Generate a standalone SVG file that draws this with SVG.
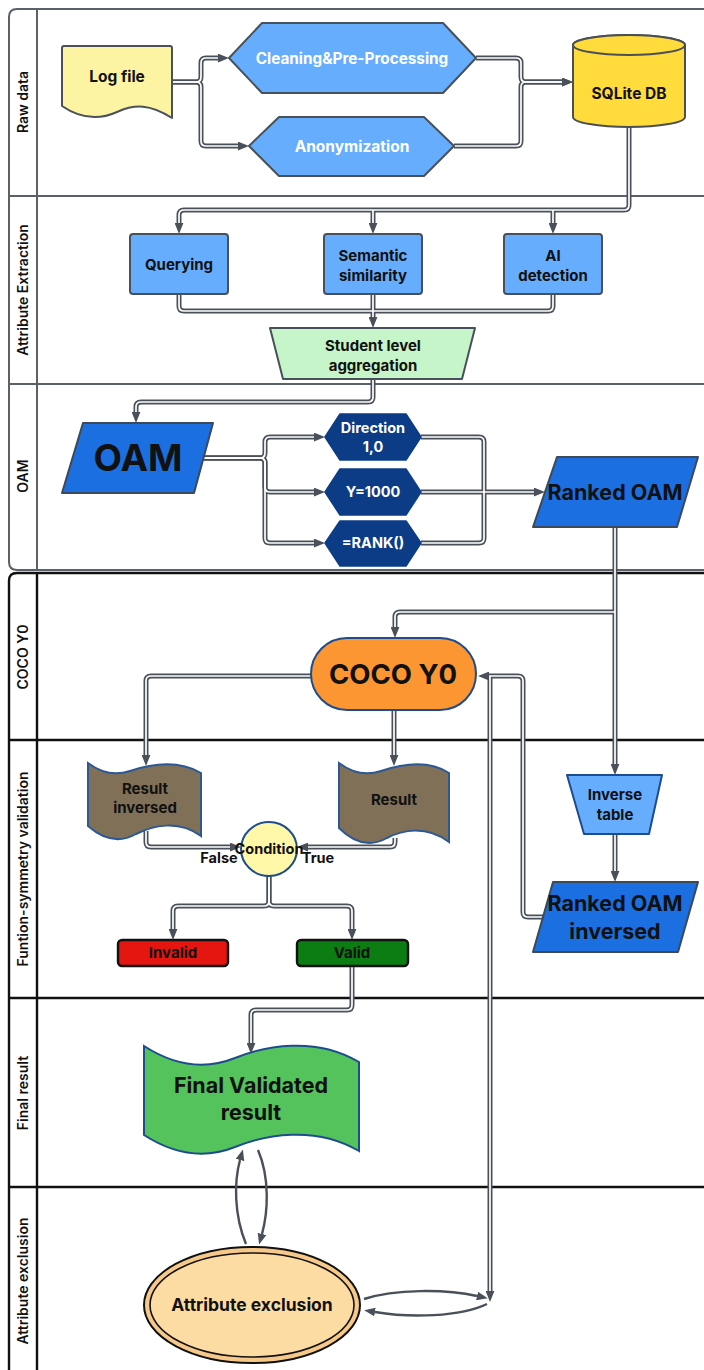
<svg xmlns="http://www.w3.org/2000/svg" xmlns:xlink="http://www.w3.org/1999/xlink" width="704" height="1370" viewBox="0 0 704 1370">
  <style>
    text { font-family: Inter, "Liberation Sans", Arial, sans-serif; font-weight: 700; text-anchor: middle; }
    .lane-t { font-size: 14px; font-weight: 600; fill: #111; }
    .pool-a { fill: none; stroke: #5a6169; stroke-width: 2; }
    .pool-b { fill: none; stroke: #111; stroke-width: 2.4; }
    .o { fill: none; stroke: #4a5059; stroke-width: 5; stroke-linejoin: round; }
    .i { fill: none; stroke: #fff; stroke-width: 1.7; stroke-linejoin: round; }
    .a { marker-end: url(#ah); }
    .s { fill: none; stroke: #4a5059; stroke-width: 2.4; marker-end: url(#ah2); }
    .lblue { fill: #67adfd; stroke: #48515b; stroke-width: 2; stroke-linejoin: round; }
    .navy { fill: #0c3c86; stroke: #0c3c86; stroke-width: 1.5; stroke-linejoin: round; }
    .para { fill: #1b6fe0; stroke: #3d4957; stroke-width: 2; stroke-linejoin: round; }
    .doc { fill: #807058; stroke: #2c5896; stroke-width: 2; }
    .w { fill: #fff; }
    .k { fill: #111; }
  </style>
  <defs>
    <marker id="ah" viewBox="0 0 10 8" refX="0" refY="4" markerWidth="11" markerHeight="9" markerUnits="userSpaceOnUse" orient="auto">
      <path d="M0,0 L10,4 L0,8 Z" fill="#4a5059"/>
    </marker>
    <marker id="ah2" viewBox="0 0 10 8" refX="0" refY="4" markerWidth="11" markerHeight="9" markerUnits="userSpaceOnUse" orient="auto">
      <path d="M0,0 L10,4 L0,8 Z" fill="#4a5059"/>
    </marker>
    <!-- double-line connector routes -->
    <path id="r1" d="M172,82 H196 Q201,82 201,77 V63 Q201,58 206,58 H218"/>
    <path id="r2" d="M172,82 H196 Q201,82 201,87 V141 Q201,146 206,146 H238"/>
    <path id="r3" d="M476,58 H516 Q521,58 521,63 V77 Q521,82 526,82 H562"/>
    <path id="r4" d="M454,146 H516 Q521,146 521,141 V87 Q521,82 526,82 H562"/>
    <path id="r5" d="M629,126 V205 Q629,210 624,210 H184 Q179,210 179,215 V223"/>
    <path id="r6" d="M373,210 V223"/>
    <path id="r7" d="M553,210 V223"/>
    <path id="a1" d="M179,294 V306 Q179,311 184,311 H548 Q553,311 553,306 V294"/>
    <path id="a2" d="M373,294 V317"/>
    <path id="o1" d="M373,379 V397 Q373,402 368,402 H141 Q136,402 136,407 V412"/>
    <path id="o2" d="M204,458 H260 Q265,458 265,453 V442 Q265,437 270,437 H314"/>
    <path id="o3" d="M204,458 H260 Q265,458 265,463 V487 Q265,492 270,492 H314"/>
    <path id="o4" d="M204,458 H260 Q265,458 265,463 V538 Q265,543 270,543 H314"/>
    <path id="o5" d="M421,437 H479 Q484,437 484,442 V538 Q484,543 479,543 H421"/>
    <path id="o6" d="M421,492 H534"/>
    <path id="c1" d="M615,527 V764"/>
    <path id="c2" d="M615,612 H400 Q395,612 395,617 V627"/>
    <path id="c3" d="M311,676 H151 Q146,676 146,681 V755"/>
    <path id="c4" d="M394,710 V755"/>
    <path id="c5" d="M545,917 H528 Q523,917 523,912 V681 Q523,676 518,676 H489"/>
    <path id="c6" d="M490,676 V1291"/>
    <path id="v1" d="M146,831 V842 Q146,847 151,847 H230"/>
    <path id="v2" d="M395,838 V842 Q395,847 390,847 H308"/>
    <path id="v3" d="M269,876 V901 Q269,906 264,906 H178 Q173,906 173,911 V929"/>
    <path id="v4" d="M269,876 V901 Q269,906 274,906 H347 Q352,906 352,911 V929"/>
    <path id="v5" d="M615,834 V871"/>
    <path id="f1" d="M352,966 V1005 Q352,1010 347,1010 H256 Q251,1010 251,1015 V1043"/>
  </defs>

  <!-- upper pool: Raw data / Attribute Extraction / OAM -->
  <g id="pool-upper">
    <path class="pool-a" d="M712,9 H17 Q9,9 9,17 V562 Q9,570 17,570 H712"/>
    <path class="pool-a" d="M37,9 V570 M9,196 H712 M9,384 H712"/>
    <text class="lane-t" transform="rotate(-90 28 102)" x="28" y="102">Raw data</text>
    <text class="lane-t" transform="rotate(-90 28 290)" x="28" y="290">Attribute Extraction</text>
    <text class="lane-t" transform="rotate(-90 28 476)" x="28" y="476">OAM</text>
  </g>

  <!-- lower pool: COCO Y0 / validation / final result / exclusion -->
  <g id="pool-lower">
    <path class="pool-b" d="M712,573 H17 Q9,573 9,581 V1372"/>
    <path class="pool-b" d="M37,573 V1372 M9,740 H712 M9,998 H712 M9,1187 H712"/>
    <text class="lane-t" transform="rotate(-90 28 657)" x="28" y="657">COCO Y0</text>
    <text class="lane-t" transform="rotate(-90 28 869)" x="28" y="869">Funtion-symmetry validation</text>
    <text class="lane-t" transform="rotate(-90 28 1093)" x="28" y="1093">Final result</text>
    <text class="lane-t" transform="rotate(-90 28 1281)" x="28" y="1281">Attribute exclusion</text>
  </g>

  <!-- connectors -->
  <g id="connectors">
    <g id="conn-outer">
      <use xlink:href="#r1" class="o a"/><use xlink:href="#r2" class="o a"/>
      <use xlink:href="#r3" class="o a"/><use xlink:href="#r4" class="o a"/>
      <use xlink:href="#r5" class="o a"/><use xlink:href="#r6" class="o a"/>
      <use xlink:href="#r7" class="o a"/>
      <use xlink:href="#a1" class="o"/><use xlink:href="#a2" class="o a"/>
      <use xlink:href="#o1" class="o a"/><use xlink:href="#o2" class="o a"/>
      <use xlink:href="#o3" class="o a"/><use xlink:href="#o4" class="o a"/>
      <use xlink:href="#o5" class="o"/><use xlink:href="#o6" class="o a"/>
      <use xlink:href="#c1" class="o a"/><use xlink:href="#c2" class="o a"/>
      <use xlink:href="#c3" class="o a"/><use xlink:href="#c4" class="o a"/>
      <use xlink:href="#c5" class="o a"/><use xlink:href="#c6" class="o a"/>
      <use xlink:href="#v1" class="o a"/><use xlink:href="#v2" class="o a"/>
      <use xlink:href="#v3" class="o a"/><use xlink:href="#v4" class="o a"/>
      <use xlink:href="#v5" class="o a"/><use xlink:href="#f1" class="o a"/>
    </g>
    <g id="conn-inner">
      <use xlink:href="#r1" class="i"/><use xlink:href="#r2" class="i"/>
      <use xlink:href="#r3" class="i"/><use xlink:href="#r4" class="i"/>
      <use xlink:href="#r5" class="i"/><use xlink:href="#r6" class="i"/>
      <use xlink:href="#r7" class="i"/>
      <use xlink:href="#a1" class="i"/><use xlink:href="#a2" class="i"/>
      <use xlink:href="#o1" class="i"/><use xlink:href="#o2" class="i"/>
      <use xlink:href="#o3" class="i"/><use xlink:href="#o4" class="i"/>
      <use xlink:href="#o5" class="i"/><use xlink:href="#o6" class="i"/>
      <use xlink:href="#c1" class="i"/><use xlink:href="#c2" class="i"/>
      <use xlink:href="#c3" class="i"/><use xlink:href="#c4" class="i"/>
      <use xlink:href="#c5" class="i"/><use xlink:href="#c6" class="i"/>
      <use xlink:href="#v1" class="i"/><use xlink:href="#v2" class="i"/>
      <use xlink:href="#v3" class="i"/><use xlink:href="#v4" class="i"/>
      <use xlink:href="#v5" class="i"/><use xlink:href="#f1" class="i"/>
    </g>
    <!-- single curved loops -->
    <path class="s" d="M246,1244 C234,1215 234,1182 240,1160"/>
    <path class="s" d="M258,1150 C270,1178 268,1212 262,1234"/>
    <path class="s" d="M364,1299 C395,1289 445,1289 477,1296"/>
    <path class="s" d="M487,1304 C460,1317 410,1318 375,1312"/>
  </g>

  <g id="log-file">
    <path d="M64,46 H170 Q172,46 172,48 V118 C150,104 135,104 117,112 C97,121 78,117 62,106 V48 Q62,46 64,46 Z" fill="#fdf4a3" stroke="#4a515a" stroke-width="2" stroke-linejoin="round"/>
    <text class="k" x="117" y="82" font-size="15.5">Log file</text>
  </g>

  <g id="cleaning">
    <path class="lblue" d="M229,58 L262,23 H443 L476,58 L443,93 H262 Z"/>
    <text class="w" x="352" y="64" font-size="15.3">Cleaning&amp;Pre-Processing</text>
  </g>

  <g id="anonymization">
    <path class="lblue" d="M249,146 L279,117 H424 L454,146 L424,176 H279 Z"/>
    <text class="w" x="352" y="152" font-size="15.5">Anonymization</text>
  </g>

  <g id="sqlite-db">
    <path d="M573,45 V117 A56,10 0 0 0 685,117 V45 A56,10 0 0 0 573,45 Z" fill="#ffdc3c" stroke="#4a4f55" stroke-width="2"/>
    <ellipse cx="629" cy="45" rx="56" ry="10" fill="#ffdc3c" stroke="#4a4f55" stroke-width="2"/>
    <text class="k" x="629" y="99" font-size="15.5">SQLite DB</text>
  </g>

  <g id="querying">
    <rect class="lblue" x="130" y="234" width="98" height="60" rx="3"/>
    <text class="k" x="179" y="270" font-size="15">Querying</text>
  </g>

  <g id="semantic-similarity">
    <rect class="lblue" x="324" y="234" width="98" height="60" rx="3"/>
    <text class="k" x="373" y="261" font-size="15">Semantic</text>
    <text class="k" x="373" y="281" font-size="15">similarity</text>
  </g>

  <g id="ai-detection">
    <rect class="lblue" x="504" y="234" width="98" height="60" rx="3"/>
    <text class="k" x="553" y="261" font-size="15">AI</text>
    <text class="k" x="553" y="281" font-size="15">detection</text>
  </g>

  <g id="student-aggregation">
    <path d="M270,328 H475 L462,379 H283 Z" fill="#c5f5c8" stroke="#48515b" stroke-width="2" stroke-linejoin="round"/>
    <text class="k" x="373" y="351" font-size="15">Student level</text>
    <text class="k" x="373" y="371" font-size="15">aggregation</text>
  </g>

  <g id="oam">
    <path class="para" d="M83,423 H213 L194,493 H62 Z"/>
    <text class="k" x="138" y="471" font-size="37">OAM</text>
  </g>

  <g id="direction">
    <path class="navy" d="M325,437 L340,414 H406 L421,437 L406,460 H340 Z"/>
    <text class="w" x="373" y="433" font-size="14.5">Direction</text>
    <text class="w" x="373" y="452" font-size="14.5">1,0</text>
  </g>

  <g id="y1000">
    <path class="navy" d="M325,492 L340,469 H406 L421,492 L406,515 H340 Z"/>
    <text class="w" x="373" y="497" font-size="14.5">Y=1000</text>
  </g>

  <g id="rank">
    <path class="navy" d="M325,543 L340,521 H406 L421,543 L406,566 H340 Z"/>
    <text class="w" x="373" y="548" font-size="14.5">=RANK()</text>
  </g>

  <g id="ranked-oam">
    <path class="para" d="M557,457 H698 L677,527 H533 Z"/>
    <text class="k" x="615" y="500" font-size="21.5">Ranked OAM</text>
  </g>

  <g id="coco-y0">
    <rect x="311" y="638" width="165" height="72" rx="36" fill="#fb9632" stroke="#1d4c8f" stroke-width="2"/>
    <text class="k" x="393" y="684" font-size="27.5">COCO Y0</text>
  </g>

  <g id="result-inversed">
    <path class="doc" d="M88,763 C100,772 115,776 130,771 S175,758 201,773 V836 C178,819 152,826 136,834 C120,843 104,840 88,826 Z"/>
    <text class="k" x="145" y="794" font-size="15">Result</text>
    <text class="k" x="145" y="813" font-size="15">inversed</text>
  </g>

  <g id="result">
    <path class="doc" d="M339,763 C351,772 366,776 381,771 S426,758 449,773 V842 C426,825 402,830 387,838 C371,847 355,844 339,828 Z"/>
    <text class="k" x="394" y="805" font-size="15">Result</text>
  </g>

  <g id="condition">
    <ellipse cx="269" cy="849" rx="28" ry="27" fill="#fff7a8" stroke="#1d4c8f" stroke-width="2"/>
    <text class="k" x="269" y="854" font-size="14.5">Condition</text>
    <text class="k" x="219" y="863" font-size="14.5">False</text>
    <text class="k" x="318" y="863" font-size="14.5">True</text>
  </g>

  <g id="invalid">
    <rect x="118" y="940" width="110" height="26" rx="4" fill="#e5150f" stroke="#111" stroke-width="2.4"/>
    <text class="k" x="173" y="958" font-size="15">Invalid</text>
  </g>

  <g id="valid">
    <rect x="297" y="940" width="111" height="26" rx="4" fill="#0b7d13" stroke="#111" stroke-width="2.4"/>
    <text class="k" x="352" y="958" font-size="15">Valid</text>
  </g>

  <g id="inverse-table">
    <path d="M567,775 H662 L649,834 H584 Z" fill="#67adfd" stroke="#1d4c8f" stroke-width="2" stroke-linejoin="round"/>
    <text class="k" x="615" y="800" font-size="15">Inverse</text>
    <text class="k" x="615" y="820" font-size="15">table</text>
  </g>

  <g id="ranked-oam-inversed">
    <path class="para" d="M553,882 H698 L678,952 H533 Z"/>
    <text class="k" x="615" y="911" font-size="21.5">Ranked OAM</text>
    <text class="k" x="615" y="939" font-size="21.5">inversed</text>
  </g>

  <g id="final-validated">
    <path d="M144,1046 C175,1066 205,1070 235,1058 S315,1036 359,1062 V1151 C315,1125 265,1135 235,1147 C205,1159 175,1155 144,1135 Z" fill="#54c35c" stroke="#1d4c8f" stroke-width="2"/>
    <text class="k" x="251" y="1093" font-size="21.5">Final Validated</text>
    <text class="k" x="251" y="1120" font-size="21.5">result</text>
  </g>

  <g id="attribute-exclusion">
    <ellipse cx="252" cy="1305" rx="108" ry="58" fill="#f6c98a" stroke="#111" stroke-width="2"/>
    <ellipse cx="252" cy="1305" rx="102" ry="52" fill="#fddca4" stroke="#111" stroke-width="1.6"/>
    <text class="k" x="252" y="1311" font-size="17.5">Attribute exclusion</text>
  </g>
</svg>
